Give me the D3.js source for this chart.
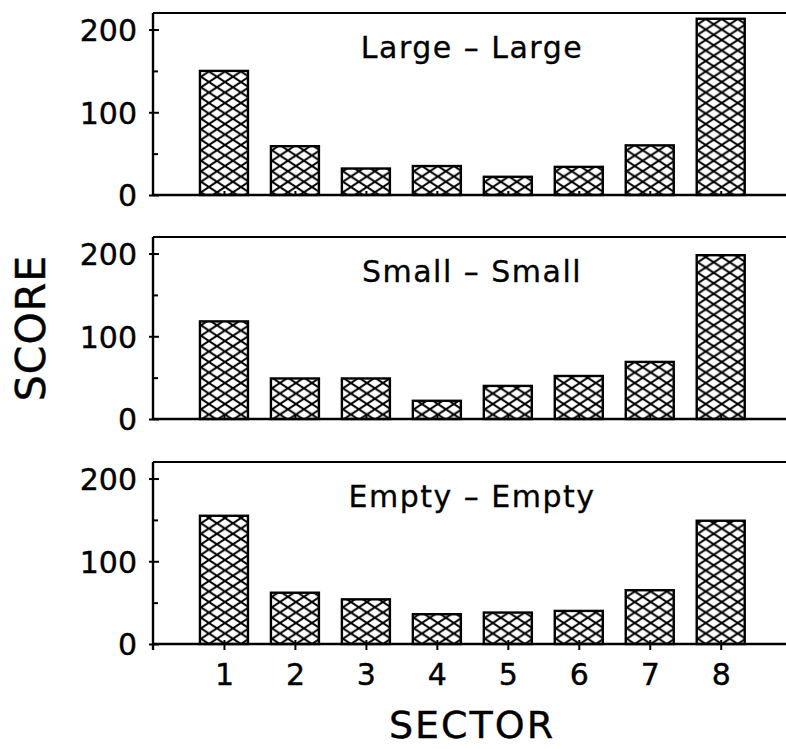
<!DOCTYPE html>
<html>
<head>
<meta charset="utf-8">
<script src="https://cdn.jsdelivr.net/npm/d3@7"></script>
<style>
  body { margin: 0; background: #fff; }
  svg { display: block; }
  text { font-family: "DejaVu Sans", sans-serif; fill: #000; }
</style>
</head>
<body>
<div id="chart"></div>
<script>
// data
const sectors = [1, 2, 3, 4, 5, 6, 7, 8];
const panelTitles = ["Large \u2013 Large", "Small \u2013 Small", "Empty \u2013 Empty"];
const largeLarge = [150, 59, 32, 35, 22, 34, 60, 213];
const smallSmall = [118, 49, 49, 22, 40, 52, 69, 198];
const emptyEmpty = [155, 62, 54, 36, 38, 40, 65, 149];
const yTicks = [0, 100, 200];
const yMinor = [50, 150];

const series = [largeLarge, smallSmall, emptyEmpty];

const width = 786;
const height = 749;
const margin = { left: 153 };
const panelW = width - margin.left;
const panelH = 182;
const panelTops = [13, 237, 462];
const barW = 48;
const ink = "#000";

const svg = d3.select("#chart")
    .append("svg")
    .attr("width", width)
    .attr("height", height);

const defs = svg.append("defs");

const x = d3.scaleLinear()
    .domain([0, 8.92])
    .range([0, panelW]);

const y = d3.scaleLinear()
    .domain([0, 220])
    .range([panelH, 0]);

series.forEach((vals, p) => {
    const g = svg.append("g")
        .attr("transform", "translate(" + margin.left + "," + panelTops[p] + ")");

    // one hatch pattern per bar so the diamonds line up with each bar's edge
    sectors.forEach((s, i) => {
        const pat = defs.append("pattern")
            .attr("id", "hatch" + p + "_" + i)
            .attr("patternUnits", "userSpaceOnUse")
            .attr("x", margin.left + x(s) - barW / 2)
            .attr("y", panelTops[p] + panelH)
            .attr("width", 16)
            .attr("height", 10.5);
        pat.append("rect").attr("width", 16).attr("height", 10.5).attr("fill", "#fff");
        pat.append("path")
            .attr("d", "M0,0L16,10.5M0,10.5L16,0M-16,10.5L0,0M16,10.5L32,0")
            .attr("stroke", ink)
            .attr("stroke-width", 2)
            .attr("fill", "none");
    });

    g.selectAll("rect.bar")
        .data(vals)
        .join("rect")
        .attr("class", "bar")
        .attr("x", (d, i) => x(sectors[i]) - barW / 2)
        .attr("y", d => y(d))
        .attr("width", barW)
        .attr("height", d => y(0) - y(d))
        .attr("fill", (d, i) => "url(#hatch" + p + "_" + i + ")")
        .attr("stroke", ink)
        .attr("stroke-width", 2.4);

    // top border and baseline
    g.append("line")
        .attr("x1", 0).attr("x2", panelW)
        .attr("y1", 0).attr("y2", 0)
        .attr("stroke", ink).attr("stroke-width", 2);
    g.append("line")
        .attr("x1", 0).attr("x2", panelW)
        .attr("y1", y(0)).attr("y2", y(0))
        .attr("stroke", ink).attr("stroke-width", 2.4);

    // y axis, ticks cross the line
    g.append("g")
        .call(d3.axisLeft(y).tickValues(yTicks).tickSize(4).tickSizeOuter(0).tickPadding(12))
        .call(a => a.select(".domain").attr("stroke", ink).attr("stroke-width", 2.4)
            .attr("d", "M0," + (p == 2 ? panelH + 6 : panelH) + "V0"))
        .call(a => a.selectAll(".tick line").attr("x1", 6).attr("stroke", ink).attr("stroke-width", 2))
        .call(a => a.selectAll(".tick text")
            .style("font-family", "DejaVu Sans")
            .style("font-size", "30px")
            .attr("fill", ink)
            .attr("stroke", ink)
            .attr("stroke-width", 0.4)
            .attr("dy", "0.36em"));

    g.append("g")
        .call(d3.axisLeft(y).tickValues(yMinor).tickFormat("").tickSize(1))
        .call(a => a.select(".domain").remove())
        .call(a => a.selectAll(".tick line").attr("x1", 5).attr("stroke", ink).attr("stroke-width", 2));

    // x ticks (labels only on the bottom panel)
    g.append("g")
        .attr("transform", "translate(0," + y(0) + ")")
        .call(d3.axisBottom(x).tickValues(sectors).tickSize(p == 2 ? 6 : 0).tickFormat(p == 2 ? d3.format("d") : ""))
        .call(a => a.select(".domain").remove())
        .call(a => a.selectAll(".tick line").attr("y1", -4).attr("stroke", ink).attr("stroke-width", 2))
        .call(a => a.selectAll(".tick text")
            .style("font-family", "DejaVu Sans")
            .style("font-size", "30px")
            .attr("fill", ink)
            .attr("stroke", ink)
            .attr("stroke-width", 0.4)
            .attr("y", 41)
            .attr("dy", null));

    g.append("text")
        .attr("x", 472 - margin.left)
        .attr("y", 45)
        .attr("text-anchor", "middle")
        .attr("stroke", ink)
        .attr("stroke-width", 0.3)
        .style("font-size", "30px")
        .style("letter-spacing", "1.5px")
        .text(panelTitles[p]);
});

svg.append("text")
    .attr("x", 472)
    .attr("y", 738)
    .attr("text-anchor", "middle")
    .attr("stroke", ink)
    .attr("stroke-width", 0.4)
    .style("font-size", "38px")
    .style("letter-spacing", "2px")
    .text("SECTOR");

svg.append("text")
    .attr("transform", "translate(45,328) rotate(-90)")
    .attr("text-anchor", "middle")
    .attr("stroke", ink)
    .attr("stroke-width", 0.4)
    .style("font-size", "41px")
    .style("letter-spacing", "1px")
    .text("SCORE");
</script>
</body>
</html>
